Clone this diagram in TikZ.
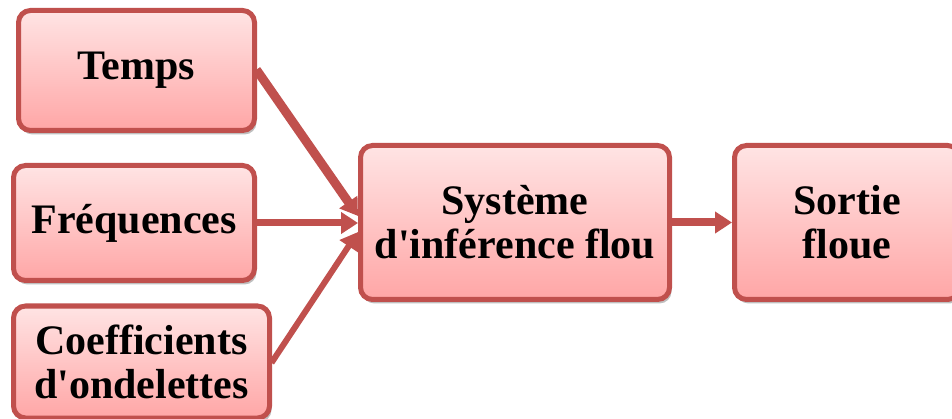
\documentclass[tikz,border=0pt]{standalone}
\usepackage{fontspec}
\setmainfont{Liberation Serif}
\usepackage{tikz}
\usetikzlibrary{arrows.meta,shadows}
\definecolor{fuzzyedge}{HTML}{C0504D}
\definecolor{fuzzytop}{HTML}{FFE4E4}
\definecolor{fuzzybot}{HTML}{FFA6A6}

\begin{document}
\begin{tikzpicture}[x=1pt, y=-1pt,
  every node/.style={font=\fontsize{42}{44}\selectfont\bfseries},
  fuzzybox/.style={draw=fuzzyedge, line width=5pt, rounded corners=12pt, top color=fuzzytop, bottom color=fuzzybot, align=center, inner sep=0pt,
    drop shadow={shadow xshift=2pt, shadow yshift=-4pt, opacity=0.25, fill=black}},
  link/.style={draw=fuzzyedge, line width=7pt, -{Triangle[length=17pt,width=21pt]}, shorten <=-1pt}
]
  \useasboundingbox (0,0) rectangle (952,419);

  \node[fuzzybox, minimum width=236pt, minimum height=120pt] (temps) at (136.5,70.5) {Temps};
  \node[fuzzybox, minimum width=241pt, minimum height=115pt] (freq) at (134,223) {Fréquences};
  \node[fuzzybox, minimum width=256pt, minimum height=112pt] (coef) at (141.5,362) {Coefficients\\d\textquotesingle ondelettes};

  \node[fuzzybox, minimum width=309pt, minimum height=154pt] (sif) at (515,222.5) {Système\\d\textquotesingle inférence flou};
  \node[fuzzybox, minimum width=225pt, minimum height=154pt] (out) at (847,222.5) {Sortie\\floue};

  \draw[link, line width=9pt] (temps.east) -- (sif.west |- 0,216);
  \draw[link] (freq.east) -- (sif.west |- 0,223);
  \draw[link, line width=6pt] (coef.east) -- (sif.west |- 0,232);
  \draw[link, line width=8pt] (sif.east) -- (out.west);
\end{tikzpicture}
\end{document}
